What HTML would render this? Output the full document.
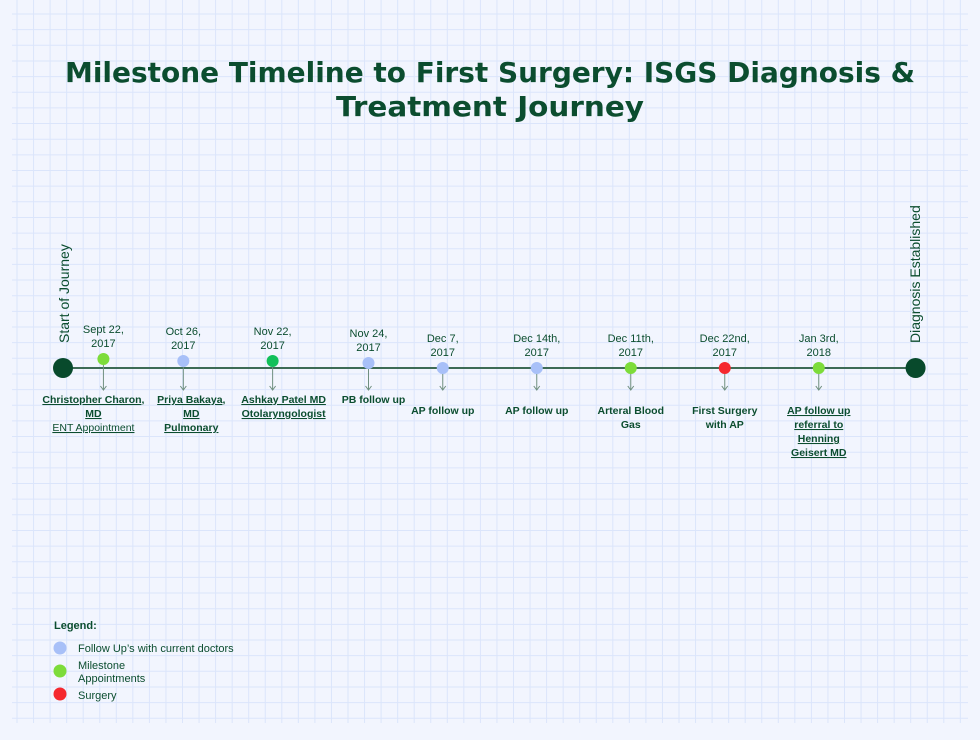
<!DOCTYPE html>
<html><head><meta charset="utf-8"><style>
body{margin:0;width:980px;height:735px;overflow:hidden;background:#f2f5fe;font-family:"Liberation Sans",sans-serif}
</style></head><body>
<svg id="chart" width="980" height="735" xmlns="http://www.w3.org/2000/svg">
<g id="grid"></g>
<text x="490" y="82" text-anchor="middle" font-family="DejaVu Sans" font-size="28" font-weight="bold" fill="#0b4d2f" textLength="850" lengthAdjust="spacingAndGlyphs">Milestone Timeline to First Surgery: ISGS Diagnosis &amp;</text>
<text x="490" y="116" text-anchor="middle" font-family="DejaVu Sans" font-size="28" font-weight="bold" fill="#0b4d2f" textLength="308" lengthAdjust="spacingAndGlyphs">Treatment Journey</text>
<line x1="63" y1="368" x2="915" y2="368" stroke="#3d6b55" stroke-width="2"/>
<g id="marks"></g>
<text transform="translate(69,343) rotate(-90)" font-size="14" fill="#0b4d2f">Start of Journey</text>
<text transform="translate(920,343) rotate(-90)" font-size="14" fill="#0b4d2f">Diagnosis Established</text>
<g font-size="11" fill="#0b4d2f">
<text x="54" y="629" font-weight="bold">Legend:</text>
<circle cx="60" cy="648" r="6.5" fill="#a8c0f8"/>
<text x="78" y="652">Follow Up’s with current doctors</text>
<circle cx="60" cy="671" r="6.5" fill="#7ddc3a"/>
<text x="78" y="669">Milestone</text>
<text x="78" y="682">Appointments</text>
<circle cx="60" cy="694" r="6.5" fill="#f5282e"/>
<text x="78" y="699">Surgery</text>
</g>
</svg>
<script>
const slots=[0.43,1.28,2.23,3.25,4.04,5.04,6.04,7.04,8.04];
const dates=[["Sept 22,","2017"],["Oct 26,","2017"],["Nov 22,","2017"],["Nov 24,","2017"],["Dec 7,","2017"],["Dec 14th,","2017"],["Dec 11th,","2017"],["Dec 22nd,","2017"],["Jan 3rd,","2018"]];
const types=["milestone","followup","milestone2","followup","followup","followup","milestone","surgery","milestone"];
const labels=[["Christopher Charon,","MD","ENT Appointment"],["Priya Bakaya,","MD","Pulmonary"],["Ashkay Patel MD","Otolaryngologist"],["PB follow up"],["AP follow up"],["AP follow up"],["Arteral Blood","Gas"],["First Surgery","with AP"],["AP follow up","referral to","Henning","Geisert MD"]];
const underline=[true,true,true,false,false,false,false,false,true];
const labelShift=[-10,8,11,5,0,0,0,0,0];
const endSlots=[0,9.07];
const colors={milestone:"#7ddc3a",milestone2:"#12c05a",followup:"#a8c0f8",surgery:"#f5282e"};
const X=s=>63+s*94;
const NS="http://www.w3.org/2000/svg";
function mk(t,a){const e=document.createElementNS(NS,t);for(const k in a)e.setAttribute(k,a[k]);return e;}
const g=document.getElementById('grid');
for(let x=17;x<968;x+=16.55){const l=mk('line',{x1:x,y1:0,x2:x,y2:723,stroke:"#dbe5fb","stroke-width":1});

g.appendChild(l);}
for(let y=14;y<724;y+=15.65){const l=mk('line',{x1:12,y1:y,x2:968,y2:y,stroke:"#dbe5fb","stroke-width":1});

g.appendChild(l);}
const m=document.getElementById('marks');
endSlots.forEach((s,i)=>{const c=mk('circle',{cx:X(s),cy:368,r:10,fill:"#084a2c"});

m.appendChild(c);});
slots.forEach((s,i)=>{const x=X(s);
const cy=i===0?359:i===1?361:i===2?361:i===3?363:368;
const ar=mk('line',{x1:x,y1:cy,x2:x,y2:390,stroke:"#6f8f80","stroke-width":1});

m.appendChild(ar);
const hd=mk('path',{d:`M${x-3},386 L${x},390 L${x+3},386`,fill:"none",stroke:"#6f8f80","stroke-width":1});

m.appendChild(hd);
const c=mk('circle',{cx:x,cy:cy,r:6,fill:colors[types[i]]});

m.appendChild(c);
dates[i].forEach((t,j)=>{const e=mk('text',{x:x,y:cy-26+j*14,"text-anchor":"middle","font-size":"11",fill:"#0b4d2f"});e.textContent=t;

m.appendChild(e);});
const ly=i<4?403:414;
labels[i].forEach((t,j)=>{const isSub=i===0&&j===2;
const e=mk('text',{x:x+labelShift[i],y:ly+j*14,"text-anchor":"middle","font-size":"10.5","font-weight":isSub?"normal":"bold",fill:"#0b4d2f","text-decoration":underline[i]?"underline":"none"});e.textContent=t;

m.appendChild(e);});
});
</script>
</body></html>
